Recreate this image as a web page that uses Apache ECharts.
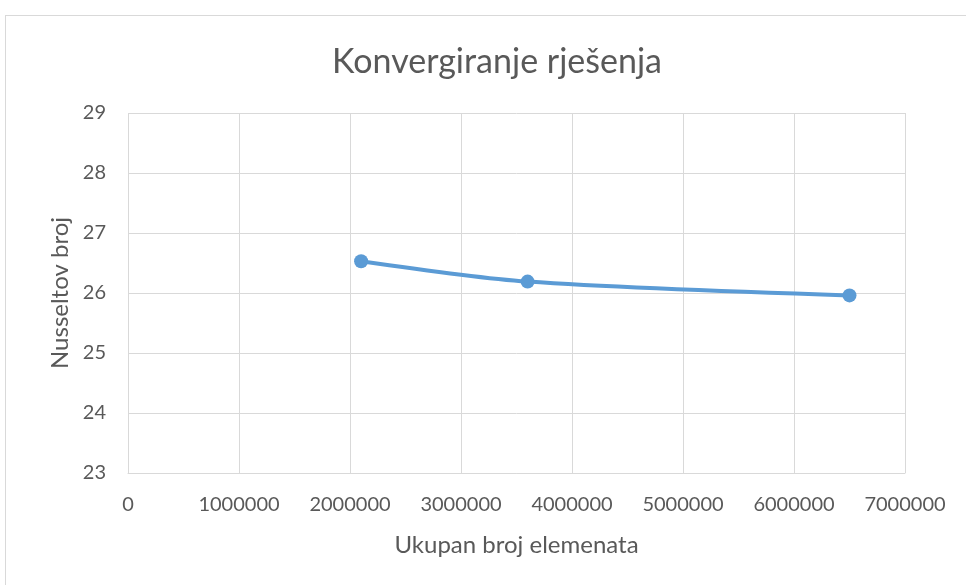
<!DOCTYPE html>
<html>
<head>
<meta charset="utf-8">
<script src="https://cdn.jsdelivr.net/npm/echarts@6/dist/echarts.min.js"></script>
<style>
  html, body { margin: 0; padding: 0; background: #fff; }
  #frame { position: absolute; left: 5px; top: 15px; width: 970px; height: 580px; border: 1px solid #d9d9d9; }
  #chart { position: absolute; left: 0; top: 0; width: 966px; height: 585px; }
</style>
</head>
<body>
<div id="frame"></div>
<div id="chart"></div>
<script>
// broj elemenata i Nusseltov broj
const elements = [2100000, 3600000, 6500000];
const nusselt = [26.53, 26.19, 25.96];

const chart = echarts.init(document.getElementById("chart"), null, { renderer: "canvas" });

const options = {
  backgroundColor: "transparent",
  textStyle: { fontFamily: "Lato" },
  title: {
    text: "Konvergiranje rješenja",
    left: 492,
    top: 40,
    textAlign: "center",
    textStyle: { fontFamily: "Lato", fontSize: 34, fontWeight: "normal", color: "#595959" },
  },
  grid: { left: 128, right: 61, top: 113, bottom: 112 },
  xAxis: {
    type: "value",
    min: 0,
    max: 7000000,
    interval: 1000000,
    name: "Ukupan broj elemenata",
    nameLocation: "middle",
    nameGap: 60,
    nameTextStyle: { fontSize: 24, color: "#595959" },
    axisLine: { show: true, lineStyle: { color: "#d9d9d9", width: 1 } },
    axisTick: { show: false },
    splitLine: { show: true, lineStyle: { color: "#d9d9d9", width: 1 } },
    axisLabel: { fontSize: 20, color: "#595959", margin: 22, formatter: (v) => String(v) },
  },
  yAxis: {
    type: "value",
    min: 23,
    max: 29,
    interval: 1,
    name: "Nusseltov broj",
    nameLocation: "middle",
    nameGap: 55,
    nameTextStyle: { fontSize: 24, color: "#595959" },
    axisLine: { show: false },
    axisTick: { show: false },
    splitLine: { show: true, lineStyle: { color: "#d9d9d9", width: 1 } },
    axisLabel: { fontSize: 20, color: "#595959", margin: 22 },
  },
  series: [
    {
      type: "line",
      data: elements.map((x, i) => [x, nusselt[i]]),
      smooth: 0.3,
      symbol: "circle",
      symbolSize: 14,
      lineStyle: { color: "#5b9bd5", width: 4 },
      itemStyle: { color: "#5b9bd5" },
    },
  ],
};

chart.setOption(options);
</script>
</body>
</html>
